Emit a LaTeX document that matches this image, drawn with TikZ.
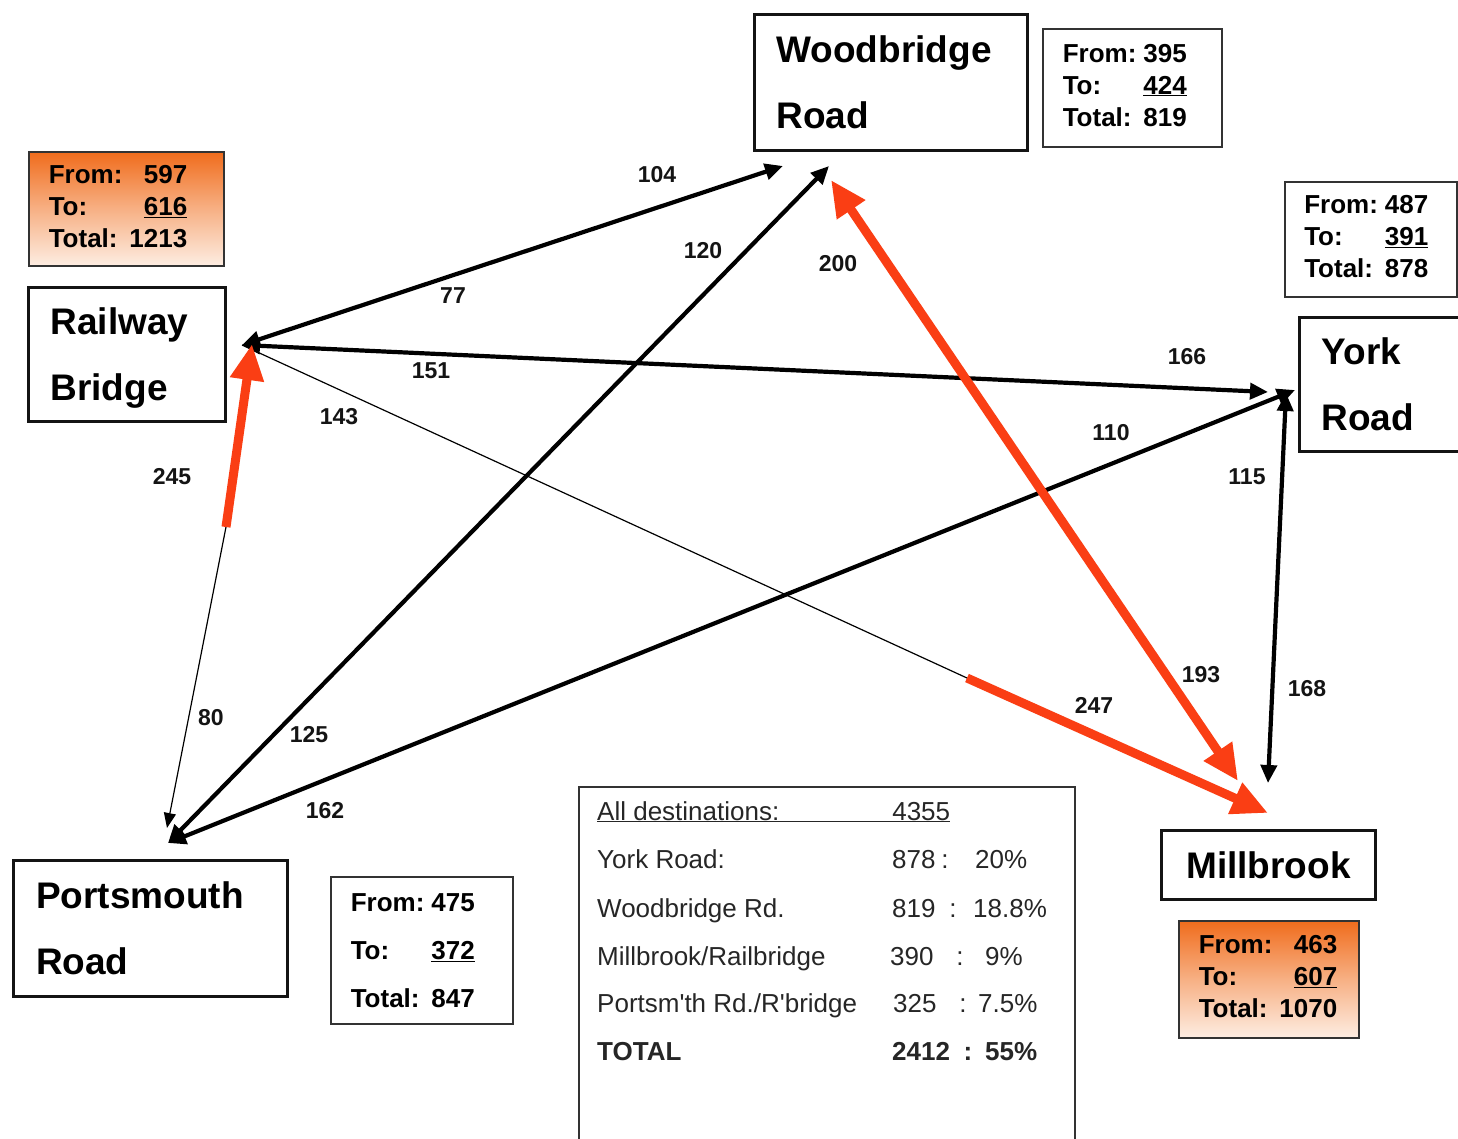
\documentclass[tikz,border=0pt]{standalone}
\usepackage{fontspec}
\setmainfont{Liberation Sans}[Ligatures=TeXReset]
\usetikzlibrary{arrows.meta}
\definecolor{hotline}{RGB}{250,62,20}
\definecolor{gtop}{RGB}{240,108,28}
\definecolor{gmid}{RGB}{247,176,132}
\definecolor{gbot}{RGB}{253,237,226}
\definecolor{inkc}{RGB}{20,20,20}
\newcommand{\bigfnt}{\bfseries\fontsize{37}{66}\selectfont}
\newcommand{\statfnt}{\bfseries\fontsize{26}{32}\selectfont}
\newcommand{\statfntw}{\bfseries\fontsize{26}{48}\selectfont}
\newcommand{\tabfnt}{\fontsize{26}{30}\selectfont}
\newcommand{\labfnt}{\bfseries\fontsize{23}{23}\selectfont}
\newcommand{\topstr}{\rule{0pt}{34pt}}
\newcommand{\botstr}{\rule[-8pt]{0pt}{8pt}}
\begin{document}
\begin{tikzpicture}[x=1pt,y=-1pt,
  mainbox/.style={draw=inkc, line width=3pt, fill=white, anchor=north west,
    inner xsep=22pt, inner ysep=0pt, align=left, font=\bigfnt},
  statbox/.style={draw=black!80, line width=1.5pt, fill=white, anchor=north west,
    inner xsep=20pt, inner ysep=0pt, font=\statfnt},
  hotbox/.style={statbox, top color=gtop, bottom color=gbot, middle color=gmid},
  blk/.style={draw=black, line width=4.2pt,
    arrows={Triangle[length=18pt,width=16pt]-Triangle[length=18pt,width=16pt]}},
  thin/.style={draw=black, line width=1.2pt},
  hot/.style={draw=hotline, line width=9pt},
  hottip/.style={arrows={-Triangle[length=36pt,width=32pt]}},
  edgelab/.style={font=\labfnt, inner sep=0pt, text=inkc},
  tabtxt/.style={font=\tabfnt, inner sep=0pt, anchor=base west, text=black!85},
  tabcol/.style={font=\tabfnt, inner sep=0pt, anchor=base, text=black!85}
]
\useasboundingbox (0,0) rectangle (1458,1138);
\clip (0,0) rectangle (1458,1138);
\fill[white] (0,0) rectangle (1458,1138);

% hub coordinates
\coordinate (rb) at (242,345);
\coordinate (rbo) at (252,344);
\coordinate (wr1) at (783,166);
\coordinate (wr2) at (829,166);
\coordinate (wro) at (831,180);
\coordinate (yr1) at (1268,392);
\coordinate (yr2) at (1295,390);
\coordinate (yr3) at (1286,393);
\coordinate (mb1) at (1268,783);
\coordinate (mb2) at (1238,781);
\coordinate (mb3) at (1268,813);
\coordinate (pr1) at (167,828);
\coordinate (pr2) at (168,843);
\coordinate (m245) at (226,527);
\coordinate (m247) at (967,678);

% black connectors
\draw[blk] (rb) -- (wr1);
\draw[blk] (rb) -- (yr1);
\draw[blk] (pr2) -- (wr2);
\draw[blk] (pr2) -- (yr2);
\draw[blk] (yr3) -- (mb1);
\draw[thin, arrows={-Triangle[length=15pt,width=12pt]}] (m245) -- (pr1);
\draw[thin] (rb) -- (m247);

% orange connectors
\draw[hot, hottip] (m245) -- (rbo);
\draw[hot, hottip] (m247) -- (mb3);
\draw[hot, arrows={Triangle[length=36pt,width=32pt]-Triangle[length=36pt,width=32pt]}] (wro) -- (mb2);

% main boxes
\node[mainbox, minimum width=273pt, minimum height=136pt, text width=229pt] (wood) at (753,13) {\topstr Woodbridge\\Road\botstr};
\node[mainbox, minimum width=197pt, minimum height=134pt, text width=153pt] (rail) at (27,286) {\topstr Railway\\Bridge\botstr};
\node[mainbox, minimum width=180pt, minimum height=134pt, text width=136pt] (york) at (1298,316) {\topstr York\\Road\botstr};
\node[mainbox, minimum width=274pt, minimum height=136pt, text width=229pt, inner xsep=22.5pt] (ports) at (12,859) {\topstr Portsmouth\\Road\botstr};
\node[draw=inkc, line width=3pt, fill=white, anchor=north west, minimum width=214pt, minimum height=69pt, inner sep=0pt, font=\bfseries\fontsize{37}{40}\selectfont] (mill) at (1160,829) {Millbrook};

% stats boxes
\node[hotbox, minimum width=195pt, minimum height=114pt, text width=155pt] (railst) at (28,151)
  {\begin{tabular}{@{}l@{\hspace{7pt}}r@{}}From: & 597\\ To: & \underline{616}\\ Total: & 1213\end{tabular}};
\node[statbox, minimum width=179pt, minimum height=118pt, text width=139pt] (woodst) at (1042,28)
  {\begin{tabular}{@{}l@{\hspace{7pt}}r@{}}From: & 395\\ To: & \underline{424}\\ Total: & 819\end{tabular}};
\node[statbox, minimum width=172pt, minimum height=115pt, text width=133pt, inner xsep=19pt] (yorkst) at (1284,181)
  {\begin{tabular}{@{}l@{\hspace{7pt}}r@{}}From: & 487\\ To: & \underline{391}\\ Total: & 878\end{tabular}};
\node[statbox, minimum width=182pt, minimum height=147pt, text width=142pt, font=\statfntw] (portsst) at (330,876)
  {\begin{tabular}{@{}l@{\hspace{7pt}}r@{}}From: & 475\\ To: & \underline{372}\\ Total: & 847\end{tabular}};
\node[hotbox, minimum width=180pt, minimum height=117pt, text width=140pt] (millst) at (1178,920)
  {\begin{tabular}{@{}l@{\hspace{7pt}}r@{}}From: & 463\\ To: & \underline{607}\\ Total: & 1070\end{tabular}};

% summary table
\node[draw=black!80, line width=1.5pt, fill=white, anchor=north west, minimum width=496pt, minimum height=370pt, inner sep=0pt] (tbl) at (578,786) {};
\node[tabtxt] (t1) at (597,820) {\underline{All destinations:\hspace*{113pt}4355}};
\node[tabtxt] (t2a) at (597,868) {York Road:};
\node[tabtxt] (t2b) at (892,868) {878};
\node[tabcol] (t2c) at (945,868) {:};
\node[tabtxt] (t2d) at (975,868) {20\%};
\node[tabtxt] (t3a) at (597,917) {Woodbridge Rd.};
\node[tabtxt] (t3b) at (892,917) {819};
\node[tabcol] (t3c) at (953,917) {:};
\node[tabtxt] (t3d) at (973,917) {18.8\%};
\node[tabtxt] (t4a) at (597,965) {Millbrook/Railbridge};
\node[tabtxt] (t4b) at (890,965) {390};
\node[tabcol] (t4c) at (960,965) {:};
\node[tabtxt] (t4d) at (985,965) {9\%};
\node[tabtxt] (t5a) at (597,1012) {Portsm'th Rd./R'bridge};
\node[tabtxt] (t5b) at (893,1012) {325};
\node[tabcol] (t5c) at (963,1012) {:};
\node[tabtxt] (t5d) at (978,1012) {7.5\%};
\node[tabtxt, font=\tabfnt\bfseries] (t6a) at (597,1060) {TOTAL};
\node[tabtxt, font=\tabfnt\bfseries] (t6b) at (892,1060) {2412};
\node[tabcol, font=\tabfnt\bfseries] (t6c) at (968,1060) {:};
\node[tabtxt, font=\tabfnt\bfseries] (t6d) at (985,1060) {55\%};

% edge labels
\node[edgelab] (l104) at (657,175) {104};
\node[edgelab] (l77) at (453,296) {77};
\node[edgelab] (l120) at (703,251) {120};
\node[edgelab] (l200) at (838,264) {200};
\node[edgelab] (l151) at (431,371) {151};
\node[edgelab] (l166) at (1187,357) {166};
\node[edgelab] (l143) at (339,417) {143};
\node[edgelab] (l110) at (1111,433) {110};
\node[edgelab] (l245) at (172,477) {245};
\node[edgelab] (l115) at (1247,477) {115};
\node[edgelab] (l193) at (1201,675) {193};
\node[edgelab] (l168) at (1307,689) {168};
\node[edgelab] (l247) at (1094,705) {247};
\node[edgelab] (l80) at (211,718) {80};
\node[edgelab] (l125) at (309,735) {125};
\node[edgelab] (l162) at (325,811) {162};
\end{tikzpicture}
\end{document}
